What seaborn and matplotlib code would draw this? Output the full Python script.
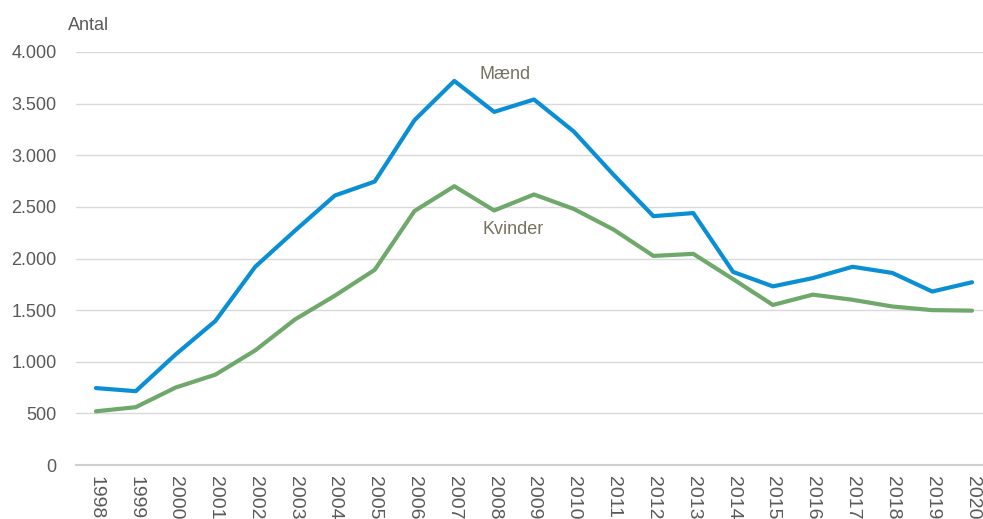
import pandas as pd
import matplotlib.pyplot as plt
import matplotlib.ticker as mticker
import seaborn as sns

years = list(range(1998, 2021))
maend = [745, 715, 1070, 1395, 1920, 2270, 2610, 2745, 3340, 3720, 3420, 3540,
         3230, 2810, 2410, 2440, 1870, 1730, 1810, 1920, 1860, 1680, 1770]
kvinder = [520, 560, 750, 875, 1110, 1410, 1640, 1890, 2460, 2700, 2465, 2620,
           2480, 2280, 2025, 2045, 1800, 1550, 1650, 1600, 1535, 1500, 1495]

df = pd.DataFrame({"pos": range(len(years)), "Mænd": maend, "Kvinder": kvinder})
df_long = df.melt(id_vars="pos", var_name="Køn", value_name="Antal")

sns.set_theme(style="white")
plt.rcParams['font.family'] = ['Liberation Sans', 'DejaVu Sans']

fig = plt.figure(figsize=(9.83, 5.19), dpi=100)
ax = fig.add_axes([76 / 983, 54 / 519, 907 / 983, 413 / 519])

sns.lineplot(data=df_long, x="pos", y="Antal", hue="Køn", ax=ax,
             palette={"Mænd": "#0A8FD4", "Kvinder": "#6EA86A"},
             linewidth=3, legend=False, zorder=3)

ax.set_xlim(-0.5, (983 - 96) / 39.82)
ax.set_ylim(0, 4000)
ax.set_yticks(range(0, 4001, 500))
ax.yaxis.set_major_formatter(mticker.FuncFormatter(lambda v, p: f"{int(v):,}".replace(",", ".")))
ax.set_xticks(range(len(years)))
ax.set_xticklabels([str(y) for y in years], rotation=270)

ax.grid(axis="y", color="#d9d9d9", linewidth=1)
ax.set_axisbelow(True)
for s in ["top", "right", "left"]:
    ax.spines[s].set_visible(False)
ax.spines["bottom"].set_color("#d0d0d0")
ax.spines["bottom"].set_linewidth(1.5)
ax.tick_params(axis="y", length=0, labelsize=13, labelcolor="#595959", pad=14)
ax.tick_params(axis="x", length=0, labelsize=14, labelcolor="#595959", pad=8)
ax.set_xlabel("")
ax.set_ylabel("")

fig.text(68 / 983, 1 - 25 / 519, "Antal", fontsize=13, color="#595959", va="center", ha="left")
ax.text(10.27, 3780, "Mænd", fontsize=13, color="#767262", ha="center", va="center")
ax.text(10.47, 2280, "Kvinder", fontsize=13, color="#767262", ha="center", va="center")

fig.savefig("out.png", dpi=100)
